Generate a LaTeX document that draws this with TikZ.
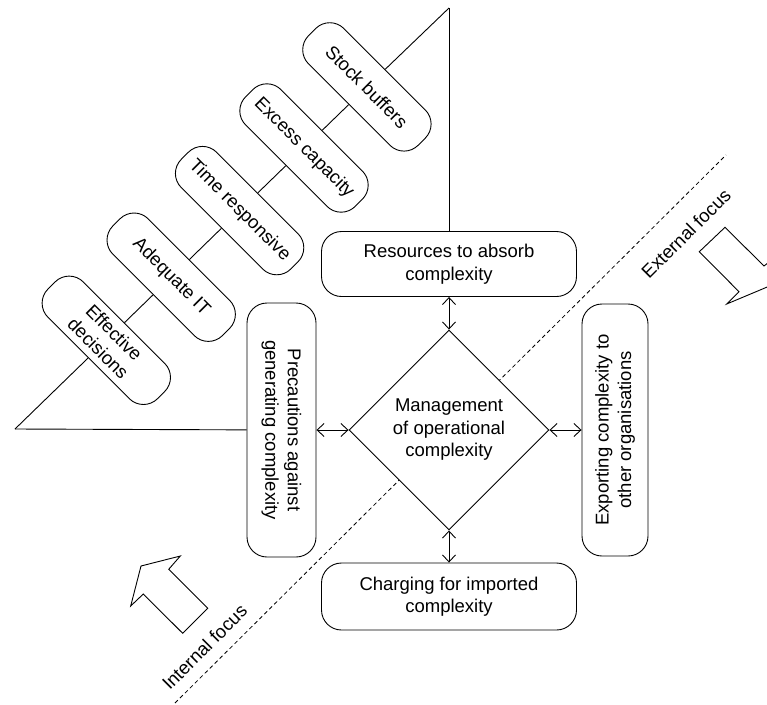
\documentclass[tikz,border=0pt]{standalone}
\usepackage{fontspec}
\setmainfont{Liberation Sans}
\usetikzlibrary{arrows.meta,shapes.geometric}
\begin{document}
\begin{tikzpicture}[x=1pt,y=-1pt,
  every node/.style={font=\fontsize{18.5}{22.5}\selectfont},
  line/.style={draw=black, line width=0.9pt},
  rbox/.style={draw=black, line width=0.9pt, fill=white, rounded corners=20pt, align=center, inner sep=0pt},
  sbox/.style={rbox, rotate=-45, minimum width=155pt, minimum height=50pt},
  dbl/.style={line width=0.9pt, {Straight Barb[length=7pt,width=13pt]}-{Straight Barb[length=7pt,width=13pt]}},
  blockarrow/.style={draw=black, line width=0.9pt, fill=white, line join=miter},
  focus/.style={rotate=45, inner sep=0pt},
  dashline/.style={line width=0.8pt, dash pattern=on 4pt off 3pt}
]
\useasboundingbox (0,0) rectangle (767,704);
\clip (0,0) rectangle (767,704);

% dashed separation line
\coordinate (dA) at (175,703);
\coordinate (dB) at (726,155);
\draw[dashline] (dA) -- (dB);

% central diamond
\node[draw=black, diamond, fill=white, line width=0.9pt, minimum width=200pt, minimum height=200pt, inner sep=0pt, align=center] (dia) at (449,430) {Management\\of operational\\complexity};

% main boxes
\node[rbox, minimum width=255pt, minimum height=65pt] (res) at (449,264) {Resources to absorb\\complexity};
\node[rbox, minimum width=255pt, minimum height=67pt] (chg) at (449,596.5) {Charging for imported\\complexity};
\node[rbox, rotate=-90, minimum width=254pt, minimum height=69pt] (prec) at (281.5,430) {Precautions against\\generating complexity};
\node[rbox, rotate=90, minimum width=252pt, minimum height=66pt] (expo) at (615,430) {Exporting complexity to\\other organisations};

% spine
\coordinate (corner) at (15,429);
\coordinate (apex) at (449,8);
\node[sbox] (eff) at (106.3,340.3) {Effective\\decisions};
\node[sbox] (adq) at (171.2,277.2) {Adequate IT};
\node[sbox] (tim) at (239.6,210.6) {Time responsive};
\node[sbox] (exc) at (304,148) {Excess capacity};
\node[sbox] (stk) at (366.9,86.9) {Stock buffers};

\draw[line] (corner) -- (eff);
\draw[line] (eff) -- (adq);
\draw[line] (adq) -- (tim);
\draw[line] (tim) -- (exc);
\draw[line] (exc) -- (stk);
\draw[line] (stk) -- (apex);
\draw[line] (apex) -- (res);
\draw[line] (corner) -- (prec);

% arrows from the diamond
\draw[dbl] (dia.north) -- (res);
\draw[dbl] (dia.south) -- (chg);
\draw[dbl] (dia.west) -- (prec);
\draw[dbl] (dia.east) -- (expo);

% block arrows
\draw[blockarrow] (141,566) -- (180.3,556) -- (168.7,569.3) -- (207.7,608.3) -- (182.7,633.3) -- (143.3,594) -- (130.7,606) -- cycle;
\draw[blockarrow] (725,227.3) -- (764,266) -- (778,255) -- (772,285) -- (726.7,304) -- (739,291.7) -- (699.3,251.7) -- cycle;

% focus labels
\node[focus] (intf) at (204.5,647) {Internal focus};
\node[focus] (extf) at (686,233.5) {External focus};
\end{tikzpicture}
\end{document}
